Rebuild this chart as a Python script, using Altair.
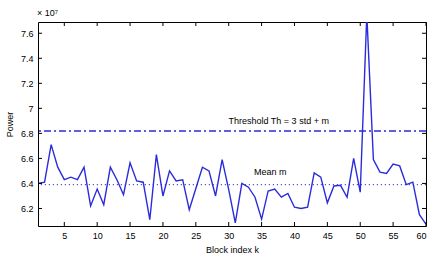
import altair as alt
import pandas as pd

block_index = list(range(1, 61))
power_e7 = [6.40, 6.41, 6.71, 6.53, 6.43, 6.45, 6.43, 6.53, 6.22, 6.355,
            6.23, 6.53, 6.43, 6.31, 6.565, 6.42, 6.41, 6.11, 6.63, 6.30,
            6.50, 6.42, 6.43, 6.19, 6.36, 6.53, 6.50, 6.30, 6.59, 6.35,
            6.085, 6.40, 6.37, 6.29, 6.115, 6.34, 6.355, 6.29, 6.32, 6.21,
            6.20, 6.21, 6.485, 6.45, 6.245, 6.38, 6.385, 6.29, 6.60, 6.33,
            7.75, 6.59, 6.49, 6.48, 6.555, 6.54, 6.39, 6.41, 6.15, 6.075]
threshold = 6.82
mean_m = 6.39
x_ticks = [5, 10, 15, 20, 25, 30, 35, 40, 45, 50, 55, 60]
y_ticks = [6.2, 6.4, 6.6, 6.8, 7.0, 7.2, 7.4, 7.6]

W, H = 388, 204
BLUE = "#2b2bdc"
FONT = "Liberation Sans"

df = pd.DataFrame({"k": block_index, "p": power_e7})
xt = pd.DataFrame({"k": x_ticks})
yt = pd.DataFrame({"p": y_ticks})
one = pd.DataFrame({"a": [0]})

xs = alt.Scale(domain=[1, 60], nice=False, zero=False)
ys = alt.Scale(domain=[6.06, 7.69], nice=False, zero=False)
xax = alt.Axis(values=x_ticks, title="Block index k", labelPadding=5, titlePadding=5)
yax = alt.Axis(values=y_ticks, format="~g", title="Power", labelPadding=5, titlePadding=6)

line = alt.Chart(df).mark_line(color=BLUE, strokeWidth=1.4, clip=True).encode(
    x=alt.X("k:Q", scale=xs, axis=xax),
    y=alt.Y("p:Q", scale=ys, axis=yax),
)

thr = alt.Chart(one).mark_rule(color=BLUE, strokeWidth=1.5, strokeDash=[7, 3, 2, 3]).encode(
    y=alt.datum(threshold, scale=ys, axis=yax)
)
mean_rule = alt.Chart(one).mark_rule(color=BLUE, strokeWidth=1, strokeDash=[1.2, 2.8]).encode(
    y=alt.datum(mean_m, scale=ys, axis=yax)
)

thr_text = alt.Chart(one).mark_text(text="Threshold Th = 3 std + m", font=FONT, fontSize=9,
                                     color="black", align="center", baseline="middle").encode(
    x=alt.datum(37.6, scale=xs, axis=xax), y=alt.datum(6.9, scale=ys, axis=yax)
)
mean_text = alt.Chart(one).mark_text(text="Mean m", font=FONT, fontSize=9,
                                      color="black", align="center", baseline="middle").encode(
    x=alt.datum(36.3, scale=xs, axis=xax), y=alt.datum(6.49, scale=ys, axis=yax)
)
exp_text = alt.Chart(one).mark_text(text="× 10⁷", font=FONT, fontSize=9,
                                     color="black", align="left", baseline="middle").encode(
    x=alt.value(-1), y=alt.value(-9)
)

tick_style = dict(color="black", strokeWidth=1)
bt = alt.Chart(xt).mark_rule(**tick_style).encode(
    x=alt.X("k:Q", scale=xs, axis=xax), y=alt.value(H), y2=alt.value(H - 4))
tt = alt.Chart(xt).mark_rule(**tick_style).encode(
    x=alt.X("k:Q", scale=xs, axis=xax), y=alt.value(0), y2=alt.value(4))
lt = alt.Chart(yt).mark_rule(**tick_style).encode(
    y=alt.Y("p:Q", scale=ys, axis=yax), x=alt.value(0), x2=alt.value(4))
rt = alt.Chart(yt).mark_rule(**tick_style).encode(
    y=alt.Y("p:Q", scale=ys, axis=yax), x=alt.value(W), x2=alt.value(W - 4))

chart = alt.layer(line, bt, tt, lt, rt, thr, mean_rule, thr_text, mean_text, exp_text).properties(
    width=W, height=H,
    autosize=alt.AutoSizeParams(type="none"),
    padding={"left": 38, "top": 22, "right": 12, "bottom": 34},
    background="white",
).configure_view(
    stroke="black", strokeWidth=1
).configure_axis(
    grid=False, domain=False, ticks=False,
    labelFont=FONT, labelFontSize=9, labelColor="black",
    titleFont=FONT, titleFontSize=9, titleColor="black", titleFontWeight="normal",
)

chart.save("out.html", embed_options={"renderer": "svg", "actions": False})
